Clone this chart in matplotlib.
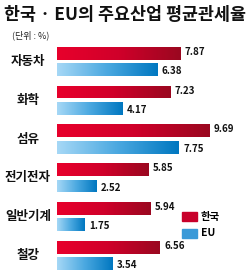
import numpy as np
import matplotlib.pyplot as plt
from matplotlib.colors import LinearSegmentedColormap

plt.rcParams['font.family'] = ['Noto Sans CJK KR', 'DejaVu Sans']

categories = ['자동차', '화학', '섬유', '전기전자', '일반기계', '철강']
korea = [7.87, 7.23, 9.69, 5.85, 5.94, 6.56]
eu = [6.38, 4.17, 7.75, 2.52, 1.75, 3.54]
series_names = ['한국', 'EU']

red_cmap = LinearSegmentedColormap.from_list('r', ['#e8002c', '#d0002a', '#9a0820'])
blue_cmap = LinearSegmentedColormap.from_list('b', ['#a6d8f6', '#4aa8e0', '#0077c0'])

fig = plt.figure(figsize=(2.5, 2.78), dpi=100)
fig.text(0.5, 0.945, '한국 · EU의 주요산업 평균관세율', ha='center', va='center',
         fontsize=12.5, fontweight='heavy', color='#111111')
fig.text(0.05, 0.872, '(단위 : %)', ha='left', va='center', fontsize=6.5, color='#222222')

ax = fig.add_axes([0.228, 0.011, 0.732, 0.838])
y = np.arange(len(categories))
h = 0.33
grad = np.linspace(0, 1, 256).reshape(1, -1)

def gradient_bars(bars, cmap):
    for b in bars:
        x0, y0 = b.get_x(), b.get_y()
        w, hh = b.get_width(), b.get_height()
        im = ax.imshow(grad, cmap=cmap, aspect='auto', extent=(x0, x0 + w, y0 + hh, y0),
                       zorder=2)
        im.set_clip_path(b)

rb = ax.barh(y - 0.21, korea, height=h, color='#d0002a', zorder=1)
bb = ax.barh(y + 0.21, eu, height=h, color='#3a9ad8', zorder=1)
gradient_bars(rb, red_cmap)
gradient_bars(bb, blue_cmap)

for i in range(len(categories)):
    ax.text(korea[i] + 0.28, y[i] - 0.25, f'{korea[i]:.2f}', va='center', ha='left',
            fontsize=7, fontweight='bold', color='#111111')
    ax.text(eu[i] + 0.28, y[i] + 0.25, f'{eu[i]:.2f}', va='center', ha='left',
            fontsize=7, fontweight='bold', color='#111111')
    ax.text(-1.85, y[i], categories[i], va='center', ha='center',
            fontsize=9, fontweight='bold', color='#111111')

# legend
ax.add_patch(plt.Rectangle((7.95, 3.88), 0.95, 0.24, color='#c8002a', zorder=3))
ax.add_patch(plt.Rectangle((7.95, 4.32), 0.95, 0.22, color='#3a9ad8', zorder=3))
ax.text(9.15, 4.0, series_names[0], va='center', ha='left', fontsize=7.5, fontweight='bold')
ax.text(9.15, 4.43, series_names[1], va='center', ha='left', fontsize=7.5, fontweight='bold')

ax.set_xlim(0, 11.66)
ax.set_ylim(5.5, -0.5)
ax.axis('off')

fig.savefig('out.png', dpi=100)
